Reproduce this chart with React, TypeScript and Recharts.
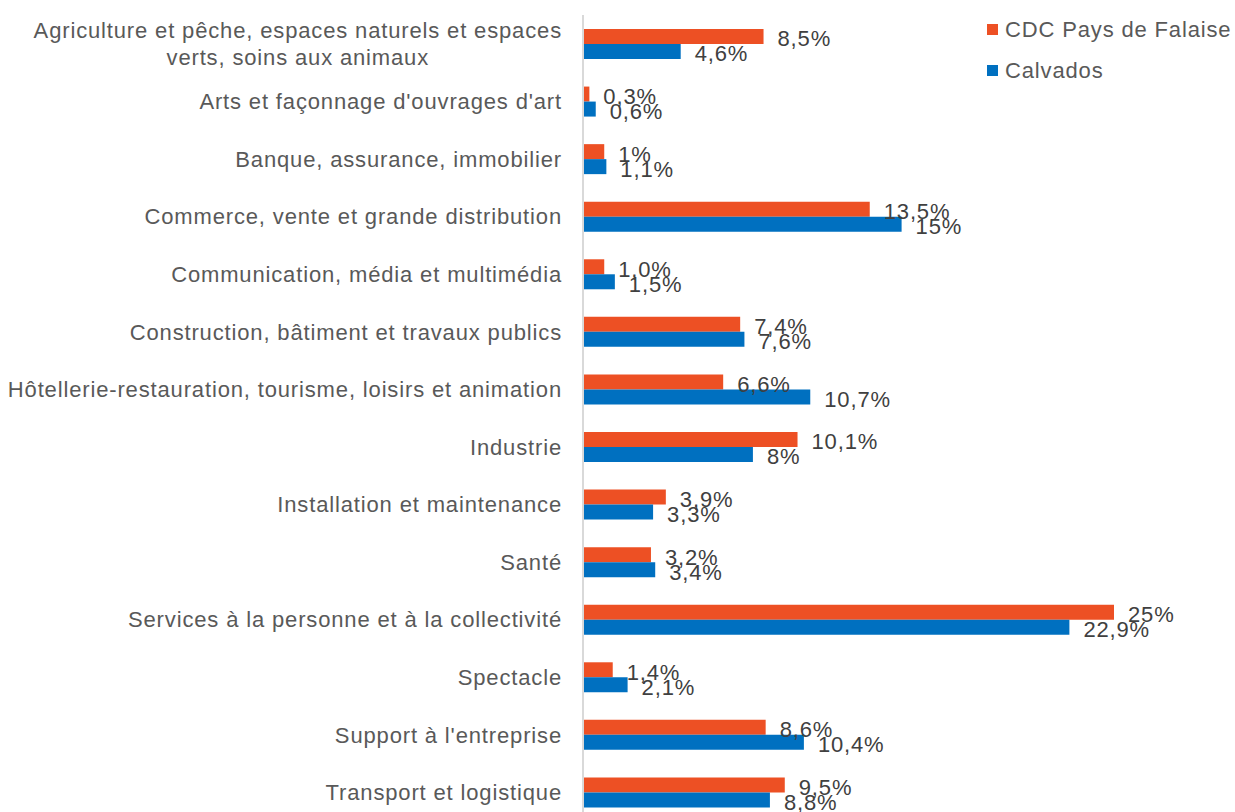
import React from 'react';
import { BarChart, Bar, XAxis, YAxis, Legend, LabelList } from 'recharts';

const categories = [
  "Agriculture et pêche, espaces naturels et espaces\nverts, soins aux animaux",
  "Arts et façonnage d'ouvrages d'art",
  'Banque, assurance, immobilier',
  'Commerce, vente et grande distribution',
  'Communication, média et multimédia',
  'Construction, bâtiment et travaux publics',
  'Hôtellerie-restauration, tourisme, loisirs et animation',
  'Industrie',
  'Installation et maintenance',
  'Santé',
  'Services à la personne et à la collectivité',
  'Spectacle',
  "Support à l'entreprise",
  'Transport et logistique',
];

const cdcValues = [8.5, 0.3, 1, 13.5, 1.0, 7.4, 6.6, 10.1, 3.9, 3.2, 25, 1.4, 8.6, 9.5];
const calvadosValues = [4.6, 0.6, 1.1, 15, 1.5, 7.6, 10.7, 8, 3.3, 3.4, 22.9, 2.1, 10.4, 8.8];

const cdcLabels = ['8,5%', '0,3%', '1%', '13,5%', '1,0%', '7,4%', '6,6%', '10,1%', '3,9%', '3,2%', '25%', '1,4%', '8,6%', '9,5%'];
const calvadosLabels = ['4,6%', '0,6%', '1,1%', '15%', '1,5%', '7,6%', '10,7%', '8%', '3,3%', '3,4%', '22,9%', '2,1%', '10,4%', '8,8%'];

const data = categories.map((name, i) => ({
  name,
  cdc: cdcValues[i],
  calvados: calvadosValues[i],
  cdcLabel: cdcLabels[i],
  calvadosLabel: calvadosLabels[i],
}));

const FONT = '"Liberation Sans", Arial, sans-serif';
const FONT_SIZE = 22;
const LETTER = 0.85;

const measure = (s: string) => {
  const ctx = document.createElement('canvas').getContext('2d');
  if (!ctx) return s.length * 10;
  ctx.font = `${FONT_SIZE}px ${FONT}`;
  return ctx.measureText(s).width + s.length * LETTER;
};

const CategoryTick = (props: any) => {
  const { x, y, payload } = props;
  const lines = String(payload.value).split('\n');
  const right = x - 13;
  const style = { fontFamily: FONT, fontSize: FONT_SIZE, letterSpacing: LETTER, fill: '#595959' };
  if (lines.length === 1) {
    return (
      <text x={right} y={y} dy="0.36em" textAnchor="end" style={style}>
        {lines[0]}
      </text>
    );
  }
  const maxW = Math.max(...lines.map(measure));
  const cx = right - maxW / 2;
  return (
    <text textAnchor="middle" style={style}>
      {lines.map((l, i) => (
        <tspan key={i} x={cx} y={y + (i - (lines.length - 1) / 2) * 27} dy="0.36em">
          {l}
        </tspan>
      ))}
    </text>
  );
};

const ValueLabel = (props: any) => {
  const { x, y, width, height, value } = props;
  return (
    <text
      x={x + width + 14}
      y={y + height / 2 + 2}
      dy="0.36em"
      style={{ fontFamily: FONT, fontSize: FONT_SIZE, letterSpacing: LETTER, fill: '#404040' }}
    >
      {value}
    </text>
  );
};

const renderLegend = (props: any) => {
  const { payload } = props;
  return (
    <div style={{ fontFamily: FONT, fontSize: FONT_SIZE, letterSpacing: LETTER, color: '#595959' }}>
      {payload.map((entry: any) => (
        <div key={entry.value} style={{ display: 'flex', alignItems: 'center', height: 41, whiteSpace: 'nowrap' }}>
          <span style={{ width: 11, height: 11, background: entry.color, marginRight: 7, flexShrink: 0 }} />
          <span>{entry.value}</span>
        </div>
      ))}
    </div>
  );
};

export default function App() {
  return (
    <div style={{ position: 'absolute', left: 0, top: 0, background: '#fff' }}>
      <BarChart
        width={1235}
        height={821}
        data={data}
        layout="vertical"
        margin={{ top: 15, right: 121, bottom: 0, left: 0 }}
        barGap={0}
      >
        <XAxis type="number" domain={[0, 25]} hide />
        <YAxis
          type="category"
          dataKey="name"
          width={583}
          tickLine={false}
          axisLine={{ stroke: '#d9d9d9', strokeWidth: 2 }}
          tick={<CategoryTick />}
          interval={0}
        />
        <Legend
          layout="horizontal"
          verticalAlign="middle"
          align="center"
          content={renderLegend}
          wrapperStyle={{ left: 987, top: 9, width: 248, height: 82 }}
        />
        <Bar dataKey="cdc" name="CDC Pays de Falaise" fill="#ED5024" barSize={15} isAnimationActive={false}>
          <LabelList dataKey="cdcLabel" content={<ValueLabel />} />
        </Bar>
        <Bar dataKey="calvados" name="Calvados" fill="#0070C0" barSize={15} isAnimationActive={false}>
          <LabelList dataKey="calvadosLabel" content={<ValueLabel />} />
        </Bar>
      </BarChart>
    </div>
  );
}
